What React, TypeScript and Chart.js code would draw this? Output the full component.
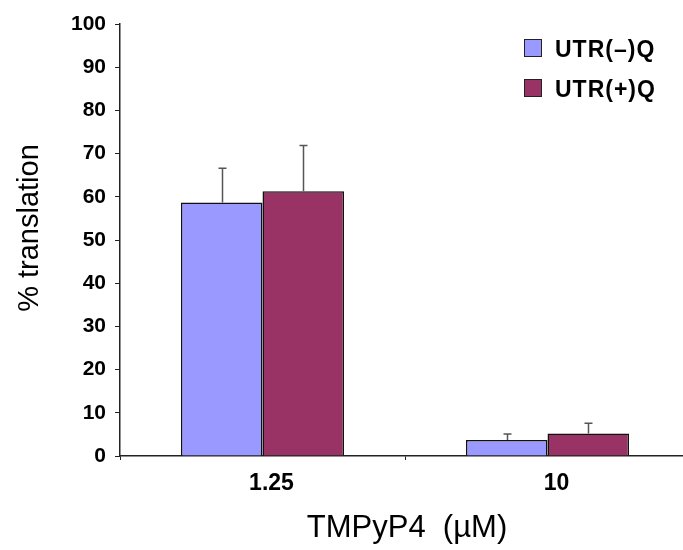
import React, { useEffect, useRef } from "react";
import { Chart, registerables } from "chart.js";

Chart.register(...registerables);

const categories = ["1.25", "10"];
const seriesLabels = ["UTR(\u2013)Q", "UTR(+)Q"];
const utrMinus = [58.7, 3.7];
const utrPlus = [61.3, 5.2];
const errMinus = [7.9, 1.4];
const errPlus = [10.6, 2.4];
const yTicks = [0, 10, 20, 30, 40, 50, 60, 70, 80, 90, 100];
const xTitle = "TMPyP4  (\u00b5M)";
const yTitle = "% translation";

const FONT = "'Liberation Sans', Arial, sans-serif";
const COLORS = ["#9999FF", "#993366"];

export default function App() {
  const ref = useRef<HTMLCanvasElement | null>(null);

  useEffect(() => {
    document.documentElement.style.overflow = "hidden";
    document.body.style.overflow = "hidden";
    const canvas = ref.current;
    if (!canvas) return;

    const errors = [errMinus, errPlus];

    const errorBars = {
      id: "errorBars",
      afterDatasetsDraw(chart: any) {
        const ctx = chart.ctx;
        const y = chart.scales.y;
        ctx.save();
        ctx.strokeStyle = "#555555";
        ctx.lineWidth = 1.5;
        chart.data.datasets.forEach((ds: any, di: number) => {
          const meta = chart.getDatasetMeta(di);
          meta.data.forEach((bar: any, i: number) => {
            const top = y.getPixelForValue(ds.data[i] + errors[di][i]);
            const x = Math.round(bar.x) + 0.5;
            ctx.beginPath();
            ctx.moveTo(x, bar.y);
            ctx.lineTo(x, top);
            ctx.moveTo(x - 4, top);
            ctx.lineTo(x + 4, top);
            ctx.stroke();
          });
        });
        ctx.restore();
      },
    };

    const customText = {
      id: "customText",
      afterDraw(chart: any) {
        const ctx = chart.ctx;
        ctx.save();
        // legend
        chart.data.datasets.forEach((ds: any, di: number) => {
          const by = 39 + di * 40;
          ctx.fillStyle = ds.backgroundColor;
          ctx.fillRect(524, by, 18, 18);
          ctx.strokeStyle = "#222";
          ctx.lineWidth = 1;
          ctx.strokeRect(524.5, by + 0.5, 17, 17);
          ctx.fillStyle = "#000";
          ctx.font = `bold 23px ${FONT}`;
          (ctx as any).letterSpacing = "1px";
          ctx.textAlign = "left";
          ctx.textBaseline = "alphabetic";
          ctx.fillText(ds.label, 555, by + 18);
          (ctx as any).letterSpacing = "0px";
        });
        // x title
        ctx.fillStyle = "#000";
        ctx.font = `31px ${FONT}`;
        ctx.textAlign = "center";
        ctx.textBaseline = "alphabetic";
        ctx.fillText(xTitle, 407, 537);
        // y title
        ctx.translate(38, 228);
        ctx.rotate(-Math.PI / 2);
        ctx.font = `29px ${FONT}`;
        ctx.fillText(yTitle, 0, 0);
        ctx.restore();
      },
    };

    const chart = new Chart(canvas, {
      type: "bar",
      data: {
        labels: categories,
        datasets: [
          {
            label: seriesLabels[0],
            data: utrMinus,
            backgroundColor: COLORS[0],
            borderColor: "#111",
            borderWidth: 1.5,
            categoryPercentage: 0.572,
            barPercentage: 1,
          },
          {
            label: seriesLabels[1],
            data: utrPlus,
            backgroundColor: COLORS[1],
            borderColor: "#111",
            borderWidth: 1.5,
            categoryPercentage: 0.572,
            barPercentage: 1,
          },
        ],
      },
      options: {
        animation: false,
        responsive: false,
        maintainAspectRatio: false,
        layout: { padding: { top: 24, right: 10, left: 0, bottom: 0 } },
        plugins: {
          legend: { display: false },
          tooltip: { enabled: false },
          title: { display: false },
        },
        scales: {
          x: {
            type: "category",
            grid: {
              display: true,
              drawOnChartArea: false,
              drawTicks: true,
              tickLength: 4,
              color: "#222",
              offset: true,
            },
            border: { display: true, color: "#222", width: 1.5 },
            ticks: {
              color: "#000",
              font: { family: FONT, size: 23, weight: "bold" },
              padding: 10,
              labelOffset: 9,
              maxRotation: 0,
            },
            afterFit(scale: any) {
              scale.height = 94;
            },
          },
          y: {
            min: 0,
            max: 100,
            afterBuildTicks(scale: any) {
              scale.ticks = yTicks.map((v) => ({ value: v }));
            },
            grid: {
              display: true,
              drawOnChartArea: false,
              drawTicks: true,
              tickLength: 5,
              color: "#222",
            },
            border: { display: true, color: "#222", width: 1.5 },
            ticks: {
              color: "#000",
              font: { family: FONT, size: 21, weight: "bold" },
              padding: 9,
            },
            afterFit(scale: any) {
              scale.width = 120;
            },
          },
        },
      },
      plugins: [errorBars, customText],
    } as any);

    return () => chart.destroy();
  }, []);

  return (
    <div style={{ position: "absolute", left: 0, top: 0, width: 700, height: 550, background: "#fff" }}>
      <canvas ref={ref} width={700} height={550} style={{ display: "block" }} />
    </div>
  );
}
